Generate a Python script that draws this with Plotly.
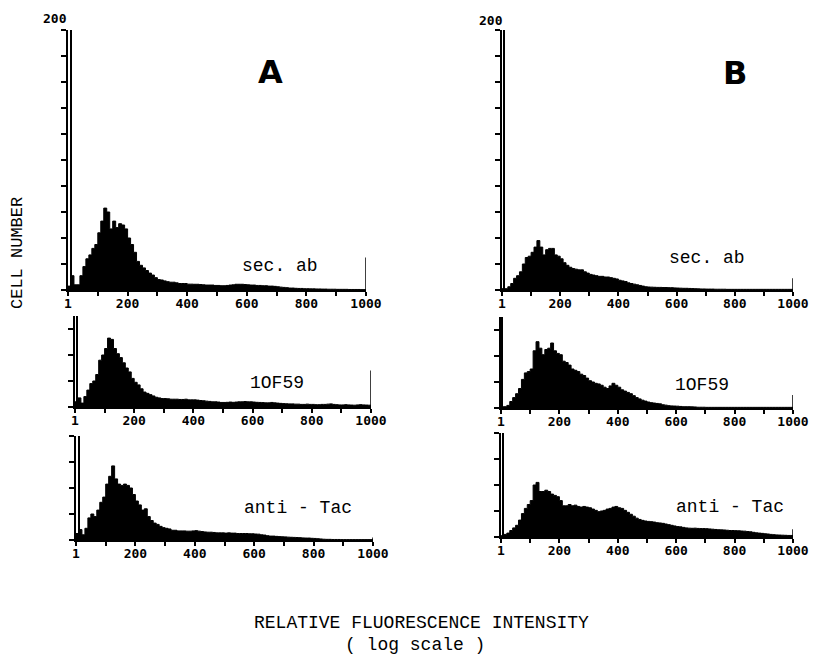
import plotly.graph_objects as go

W, H = 813, 656

# ---------------- data ----------------
bin_width = 10
bin_starts = list(range(0, 1000, bin_width))  # channel bins 0..990

A_sec_ab = [3, 11, 4, 4, 11, 18, 24, 27, 32, 35,
            44, 53, 63, 60, 47, 53, 48, 51, 50, 47,
            40, 35, 29, 22, 19, 17, 15, 13, 11.5, 9.5,
            8, 7.7, 7, 6.4, 6, 6, 5.5, 5, 5, 5,
            4.5, 4.5, 4.4, 4.4, 4.2, 4, 3.8, 3.8, 3.8, 3.5,
            3.5, 3.3, 3.3, 3.5, 3.8, 4, 4.4, 4.4, 4.4, 4.2,
            4, 3.8, 3.8, 3.5, 3.5, 3.3, 3.3, 3, 3, 2.8,
            2.5, 2.2, 2, 1.8, 1.5, 1.5, 1.3, 1.2, 1.2, 1,
            1, 0.9, 0.9, 0.8, 0.8, 0.7, 0.7, 0.6, 0.6, 0.6,
            0.5, 0.5, 0.5, 0.5, 0.4, 0.4, 0.4, 0.4, 0.3, 0.3]
A_10F59 = [4, 7, 3, 8, 13, 18, 20, 25, 36, 40,
           45, 53, 52, 45, 41, 38, 34, 30, 27, 22,
           19, 17, 14, 11.5, 10.5, 9.5, 8.5, 7.5, 7, 6.5,
           6.5, 6.3, 6, 6, 6, 5.8, 5.8, 6, 5.5, 5.5,
           5.5, 5.3, 5, 4.8, 4.5, 4.3, 4, 4, 3.8, 3.5,
           3.5, 3.6, 3.8, 3.6, 3.8, 4, 4, 4.2, 4, 4,
           3.8, 3.6, 3.5, 3.4, 3.2, 3.2, 3.5, 3.2, 3, 2.8,
           2.6, 2.5, 2.4, 2.4, 2.2, 2.2, 2, 2, 2.2, 2,
           2, 1.8, 1.8, 2, 2, 2.2, 2.4, 2, 1.8, 1.6,
           1.6, 1.8, 1.6, 1.5, 1.4, 1.6, 1.8, 1.6, 1.5, 1.4]
A_antiTac = [5, 8, 4, 9, 17, 20, 18, 23, 29, 33,
             43, 49, 57, 47, 43, 42, 43, 42, 40, 35,
             30, 27, 23, 24, 18, 15, 13, 12, 10.5, 9.5,
             9, 8.5, 7.5, 7.5, 7, 7, 7, 6.8, 6.8, 7,
             7.2, 6.8, 6.5, 6.2, 6, 6, 5.8, 5.5, 5.5, 5.5,
             5.3, 5.5, 5.3, 5.3, 5, 5, 5, 5, 4.8, 4.8,
             4.6, 4.5, 4, 3.8, 3.3, 3, 3, 2.8, 2.6, 2.5,
             2.4, 2.2, 2.1, 2, 1.9, 1.8, 1.6, 1.5, 1.5, 1.3,
             1.2, 1, 0.8, 0.6, 0.5, 0.5, 0.4, 0.4, 0.4, 0.3,
             0.3, 0.3, 0.3, 0.3, 0.3, 0.3, 0.3, 0.3, 0.3, 0.3]
B_sec_ab = [1, 1, 2.5, 5, 9, 11, 14, 20, 25, 26,
            29, 33, 38, 33, 27, 31, 32, 32, 27, 26,
            24, 21, 19, 17.5, 16.5, 16, 15.5, 15.5, 14, 13,
            12, 11.5, 11, 10.5, 10.5, 10, 10, 9.5, 9, 8.5,
            7.5, 7, 6.5, 5.5, 5, 4.5, 4, 3.5, 3, 2.5,
            2.3, 2.2, 2.1, 2, 2, 1.9, 1.9, 1.8, 1.8, 1.6,
            1.5, 1.4, 1.3, 1.3, 1.2, 1.1, 1, 0.9, 0.8, 0.8,
            0.7, 0.7, 0.7, 0.6, 0.6, 0.6, 0.6, 0.5, 0.5, 0.5,
            0.5, 0.5, 0.5, 0.5, 0.5, 0.5, 0.5, 0.5, 0.5, 0.5,
            0.5, 0.5, 0.5, 0.5, 0.5, 0.5, 0.5, 0.5, 0.5, 0.5]
B_10F59 = [1, 1, 2, 5, 8, 11, 15, 22, 27, 28,
           30, 44, 51, 46, 41, 45, 46, 50, 44, 42,
           41, 36, 35, 33, 30, 29, 28, 26, 25, 23,
           21, 20, 19, 18.5, 17.5, 16, 15, 17, 19, 17.5,
           16, 14, 13, 12, 11, 9.5, 8, 7, 6, 5.3,
           4.6, 4.1, 3.8, 3.5, 3.2, 2.5, 2.2, 1.8, 1.6, 1.5,
           1.4, 1.2, 1, 1, 1, 0.9, 0.8, 0.6, 0.6, 0.6,
           0.5, 0.5, 0.5, 0.5, 0.5, 0.5, 0.5, 0.5, 0.5, 0.5,
           0.5, 0.5, 0.5, 0.5, 0.5, 0.5, 0.5, 0.5, 0.5, 0.5,
           0.5, 0.5, 0.5, 0.5, 0.5, 0.5, 0.5, 0.5, 0.5, 0.5]
B_antiTac = [1, 2, 3, 5, 7, 9, 13, 18, 22, 25,
             28, 40, 42, 35, 35, 36, 35, 33, 32, 31,
             28, 24, 24, 25, 24, 24.5, 23.5, 23, 23.5, 23,
             22.5, 21.5, 20.5, 19.5, 20, 20.5, 21.5, 22, 23, 23.5,
             22.5, 22, 20.5, 19, 17.5, 16, 14.5, 13.5, 12.8, 12.3,
             12, 11.8, 11.5, 11, 10.8, 10.5, 10, 9.5, 9, 8.5,
             8, 7.8, 7.4, 7, 6.8, 6.7, 6.8, 6.6, 6.5, 6.5,
             6.4, 6.2, 6, 5.8, 5.6, 5.5, 5.4, 5.2, 5, 5,
             4.9, 4.8, 4.6, 4.5, 4.2, 4, 3.6, 3.2, 3, 2.8,
             2.5, 2.3, 2, 1.8, 1.6, 1.5, 1.4, 1.3, 1.2, 1.2]

# narrow debris spike near channel 0 (off scale, clipped at top of each panel)
spike_channel = [10, 8, 12, 7, 5, 7]
spike_count = [300, 300, 300, 300, 300, 300]

# end-of-scale marker heights at channel 1000
end_marker = [25, 28, 2, 9, 10, 6]

series = [A_sec_ab, A_10F59, A_antiTac, B_sec_ab, B_10F59, B_antiTac]
labels = ["sec. ab", "1OF59", "anti - Tac", "sec. ab", "1OF59", "anti - Tac"]
y_max = [200, 70, 80, 200, 70, 80]

x_tickvals = list(range(0, 1001, 100))
x_ticktext = ["1", "", "200", "", "400", "", "600", "", "800", "", "1000"]

# ---------------- layout (pixel geometry) ----------------
# (x_left, x_right, y_top_of_axis, y_baseline) in pixels
panels = [
    (68, 366, 30, 290),
    (75, 371, 316, 407),
    (76, 373, 436, 540),
    (502, 793, 30, 290),
    (501, 793, 317, 408),
    (501, 793, 433, 537),
]
label_pos = [(280, 266), (277, 383), (298, 508), (707, 258), (702, 385), (730, 507)]

fig = go.Figure()
layout = dict(
    width=W, height=H, margin=dict(l=0, r=0, t=0, b=0, autoexpand=False),
    paper_bgcolor="white", plot_bgcolor="white", showlegend=False,
)

tick_font = dict(family="DejaVu Sans Mono", size=13, color="black")
label_font = dict(family="Liberation Mono", size=18, color="black")
bold = lambda s: "<b>%s</b>" % s if s else ""


def note(px, py, text, font, **kw):
    return dict(x=px / W, y=1 - py / H, xref="paper", yref="paper", text=text,
                showarrow=False, xanchor="center", yanchor="middle", font=font, **kw)


annotations = []
shapes = []
for i, (vals, (xl, xr, yt, yb)) in enumerate(zip(series, panels)):
    n = "" if i == 0 else str(i + 1)
    xa, ya = "x" + n, "y" + n
    xs = bin_starts + [1000]
    ys = list(vals) + [vals[-1]]
    fig.add_trace(go.Scatter(
        x=xs, y=ys, mode="lines", line=dict(shape="hv", color="black", width=1),
        fill="tozeroy", fillcolor="black", xaxis=xa, yaxis=ya, hoverinfo="skip"))
    fig.add_trace(go.Bar(
        x=[spike_channel[i]], y=[spike_count[i]], width=5,
        marker=dict(color="black", line=dict(width=0)), xaxis=xa, yaxis=ya, hoverinfo="skip"))
    layout["xaxis" + n] = dict(
        domain=[xl / W, xr / W], range=[0, 1000], anchor=ya,
        tickvals=x_tickvals, ticktext=[bold(t) for t in x_ticktext],
        ticks="outside", ticklen=4, tickwidth=2, ticklabelstandoff=-4,
        tickcolor="black", showline=True, linecolor="black", linewidth=2,
        showgrid=False, zeroline=False, tickfont=tick_font, fixedrange=True, automargin=False)
    layout["yaxis" + n] = dict(
        domain=[1 - yb / H, 1 - yt / H], range=[0, y_max[i]], anchor=xa,
        tickvals=list(range(0, y_max[i] + 1, 20)), showticklabels=False,
        ticks="outside", ticklen=5, tickwidth=1.5, tickcolor="black",
        showline=True, linecolor="black", linewidth=2,
        showgrid=False, zeroline=False, fixedrange=True, automargin=False)
    shapes.append(dict(type="line", xref=xa, yref=ya, x0=1000, x1=1000, y0=0,
                       y1=end_marker[i], line=dict(color="black", width=1.5)))
    lx, ly = label_pos[i]
    annotations.append(note(lx, ly, labels[i], label_font))

annotations.append(note(55, 19, "<b>200</b>", tick_font))
annotations.append(note(491, 21, "<b>200</b>", tick_font))
letter_font = dict(family="DejaVu Sans", size=32, color="black")
annotations.append(note(270, 72, "<b>A</b>", letter_font))
annotations.append(note(735, 73, "<b>B</b>", letter_font))
annotations.append(note(17, 253, "CELL NUMBER",
                        dict(family="Liberation Mono", size=17, color="black"), textangle=-90))
annotations.append(note(421, 623, "RELATIVE FLUORESCENCE INTENSITY", label_font))
annotations.append(note(415, 645, "( log scale )", label_font))

layout["annotations"] = annotations
layout["shapes"] = shapes
layout["bargap"] = 0
fig.update_layout(**layout)
fig.write_html("out.html", config={"displayModeBar": False},
               post_script="document.body.style.margin='0';document.body.style.overflow='hidden';")
